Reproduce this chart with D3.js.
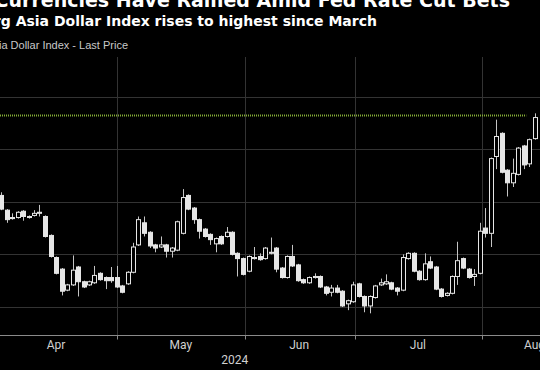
<!DOCTYPE html>
<html>
<head>
<meta charset="utf-8">
<script src="https://cdn.jsdelivr.net/npm/d3@7"></script>
<style>
  html, body { margin: 0; background: #000; overflow: hidden; }
  #chart { position: relative; width: 540px; height: 370px; overflow: hidden; }
  svg { display: block; }
  .headline {
    position: absolute; right: 30px; top: -8.6px;
    white-space: nowrap; color: #fff;
    font: bold 19px/19px "DejaVu Sans", sans-serif;
  }
</style>
</head>
<body>
<div id="chart"></div>
<script>
// daily candles, Bloomberg Asia Dollar Index, from early April 2024
const open = [105.06, 104.92, 104.85, 104.85, 104.91, 104.86, 104.87, 104.89, 104.86, 104.68,
  104.47, 104.36, 104.16, 104.21, 104.38, 104.24, 104.21, 104.23, 104.32, 104.28,
  104.28, 104.28, 104.20, 104.22, 104.33, 104.59, 104.80, 104.71, 104.59, 104.57,
  104.59, 104.53, 104.54, 104.70, 105.06, 104.94, 104.83, 104.74, 104.69, 104.60,
  104.67, 104.67, 104.71, 104.51, 104.46, 104.34, 104.46, 104.48, 104.46, 104.51,
  104.56, 104.37, 104.28, 104.48, 104.40, 104.26, 104.23, 104.28, 104.29, 104.19,
  104.14, 104.18, 104.15, 104.03, 104.05, 104.22, 104.10, 104.01, 104.09, 104.21,
  104.22, 104.23, 104.18, 104.16, 104.46, 104.51, 104.34, 104.26, 104.43, 104.38,
  104.17, 104.11, 104.13, 104.29, 104.46, 104.36, 104.29, 104.32, 104.75, 104.70,
  105.43, 105.65, 105.30, 105.18, 105.26, 105.53, 105.36, 105.60]
const high = [105.09, 104.93, 104.89, 104.91, 104.92, 104.87, 104.92, 104.97, 104.87, 104.69,
  104.48, 104.37, 104.22, 104.49, 104.39, 104.25, 104.25, 104.39, 104.33, 104.29,
  104.38, 104.39, 104.21, 104.34, 104.61, 104.86, 104.86, 104.72, 104.60, 104.67,
  104.60, 104.57, 104.82, 105.12, 105.07, 104.95, 104.84, 104.75, 104.70, 104.66,
  104.68, 104.76, 104.72, 104.52, 104.47, 104.49, 104.57, 104.51, 104.57, 104.66,
  104.57, 104.38, 104.49, 104.59, 104.41, 104.27, 104.29, 104.32, 104.30, 104.20,
  104.21, 104.21, 104.16, 104.07, 104.24, 104.23, 104.11, 104.11, 104.21, 104.27,
  104.31, 104.24, 104.19, 104.50, 104.52, 104.52, 104.35, 104.51, 104.48, 104.39,
  104.18, 104.14, 104.30, 104.62, 104.47, 104.37, 104.36, 104.80, 104.94, 105.42,
  105.78, 105.66, 105.31, 105.41, 105.52, 105.54, 105.60, 105.84]
const low = [104.92, 104.80, 104.83, 104.84, 104.82, 104.84, 104.86, 104.86, 104.66, 104.47,
  104.31, 104.11, 104.15, 104.20, 104.10, 104.18, 104.20, 104.22, 104.25, 104.17,
  104.23, 104.18, 104.13, 104.21, 104.32, 104.58, 104.67, 104.56, 104.52, 104.56,
  104.47, 104.47, 104.53, 104.69, 104.92, 104.79, 104.65, 104.66, 104.59, 104.52,
  104.59, 104.66, 104.49, 104.29, 104.30, 104.33, 104.45, 104.44, 104.45, 104.50,
  104.33, 104.27, 104.27, 104.38, 104.24, 104.22, 104.22, 104.27, 104.18, 104.11,
  104.10, 104.13, 104.00, 103.97, 104.04, 104.09, 103.95, 103.94, 104.08, 104.20,
  104.21, 104.16, 104.11, 104.15, 104.45, 104.33, 104.25, 104.25, 104.36, 104.16,
  104.09, 104.10, 104.12, 104.21, 104.36, 104.27, 104.20, 104.31, 104.66, 104.57,
  105.31, 105.27, 105.05, 105.14, 105.25, 105.31, 105.33, 105.59]
const close = [104.93, 104.83, 104.84, 104.90, 104.86, 104.85, 104.89, 104.90, 104.67, 104.48,
  104.32, 104.15, 104.21, 104.35, 104.24, 104.19, 104.24, 104.30, 104.26, 104.25,
  104.25, 104.19, 104.14, 104.33, 104.57, 104.83, 104.70, 104.58, 104.56, 104.59,
  104.53, 104.56, 104.81, 105.04, 104.93, 104.83, 104.72, 104.67, 104.64, 104.65,
  104.60, 104.71, 104.50, 104.46, 104.31, 104.48, 104.47, 104.45, 104.56, 104.52,
  104.36, 104.28, 104.48, 104.39, 104.25, 104.23, 104.28, 104.29, 104.19, 104.13,
  104.18, 104.14, 104.01, 104.06, 104.21, 104.10, 104.01, 104.10, 104.20, 104.23,
  104.24, 104.17, 104.15, 104.47, 104.51, 104.34, 104.26, 104.41, 104.37, 104.17,
  104.10, 104.13, 104.29, 104.44, 104.37, 104.28, 104.31, 104.72, 104.70, 105.41,
  105.62, 105.28, 105.18, 105.27, 105.51, 105.35, 105.59, 105.80]

// month boundaries and label centres, in trading-day units
const monthBreaks = [21.1, 44.4, 64.3, 87.4]
const monthNames = ['Apr', 'May', 'Jun', 'Jul', 'Aug']
const monthCentres = [10, 32.7, 54.2, 75.8, 97]
const yearLabel = '2024'
const yearCentre = 42.5

const yTicks = [104, 104.5, 105, 105.5, 106]
const highSinceMarch = 105.82
const highLineEnd = 95.5

async function draw() {
    const dataset = open.map((o, i) => ({
        i: i, open: o, high: high[i], low: low[i], close: close[i]
    }))

    let dimensions = {
        width: 540,
        height: 370,
        plotTop: 57,
        plotBottom: 335.5
    }

    const svg = d3.select('#chart')
        .append('svg')
        .attr('width', dimensions.width)
        .attr('height', dimensions.height)
        .style('background', '#000')

    // headline sits half outside the frame, like the source crop
    d3.select('#chart')
        .append('div')
        .attr('class', 'headline')
        .text('Asian Currencies Have Rallied Amid Fed Rate Cut Bets')

    const xScale = d3.scaleLinear()
        .domain([0, dataset.length - 1])
        .range([1, 534.5])

    const yScale = d3.scaleLinear()
        .domain([104, 106])
        .range([307, 96.5])

    svg.append('text')
        .attr('x', 377).attr('y', 26)
        .attr('text-anchor', 'end')
        .attr('fill', '#fff')
        .style('font', 'bold 14px "DejaVu Sans", sans-serif')
        .text('Bloomberg Asia Dollar Index rises to highest since March')

    svg.append('text')
        .attr('x', 128).attr('y', 49)
        .attr('text-anchor', 'end')
        .attr('fill', '#c8c8c8')
        .style('font', '11px "Liberation Sans", Arial, sans-serif')
        .text('Bloomberg Asia Dollar Index - Last Price')

    const ctr = svg.append('g')

    // grid
    ctr.append('g')
        .selectAll('line')
        .data(yTicks)
        .join('line')
        .attr('x1', 0).attr('x2', dimensions.width)
        .attr('y1', d => Math.round(yScale(d)) + 0.5)
        .attr('y2', d => Math.round(yScale(d)) + 0.5)
        .attr('stroke', '#333')

    ctr.append('g')
        .selectAll('line')
        .data(monthBreaks)
        .join('line')
        .attr('x1', d => Math.round(xScale(d)) + 0.5)
        .attr('x2', d => Math.round(xScale(d)) + 0.5)
        .attr('y1', dimensions.plotTop)
        .attr('y2', dimensions.plotBottom)
        .attr('stroke', '#333')

    // level of the March high
    ctr.append('line')
        .attr('x1', 0).attr('x2', xScale(highLineEnd))
        .attr('y1', yScale(highSinceMarch))
        .attr('y2', yScale(highSinceMarch))
        .attr('stroke', '#84ab36')
        .attr('stroke-width', 2)
        .attr('stroke-dasharray', '1,1')

    // candles
    const candles = ctr.append('g')
        .selectAll('g')
        .data(dataset)
        .join('g')

    candles.append('line')
        .attr('x1', d => Math.round(xScale(d.i)) + 0.5)
        .attr('x2', d => Math.round(xScale(d.i)) + 0.5)
        .attr('y1', d => yScale(d.high))
        .attr('y2', d => yScale(d.low))
        .attr('stroke', '#c4c4c4')

    candles.append('rect')
        .attr('x', d => Math.round(xScale(d.i)) - 1.5)
        .attr('y', d => yScale(Math.max(d.open, d.close)))
        .attr('width', 4)
        .attr('height', d => Math.max(1, Math.abs(yScale(d.open) - yScale(d.close))))
        .attr('fill', d => d.close >= d.open ? '#000' : '#e6e6e6')
        .attr('stroke', '#e6e6e6')
        .attr('stroke-width', 1)

    // x axis
    ctr.append('line')
        .attr('x1', 0).attr('x2', dimensions.width)
        .attr('y1', dimensions.plotBottom).attr('y2', dimensions.plotBottom)
        .attr('stroke', '#8a8a8a')

    ctr.append('g')
        .selectAll('line')
        .data(monthBreaks)
        .join('line')
        .attr('x1', d => Math.round(xScale(d)) + 0.5)
        .attr('x2', d => Math.round(xScale(d)) + 0.5)
        .attr('y1', dimensions.plotBottom)
        .attr('y2', dimensions.plotBottom + 4)
        .attr('stroke', '#8a8a8a')

    ctr.append('g')
        .selectAll('text')
        .data(monthNames)
        .join('text')
        .attr('x', (d, i) => xScale(monthCentres[i]))
        .attr('y', 349)
        .attr('text-anchor', 'middle')
        .attr('fill', '#d0d0d0')
        .style('font', '12px Roboto, sans-serif')
        .text(d => d)

    ctr.append('text')
        .attr('x', xScale(yearCentre))
        .attr('y', 364)
        .attr('text-anchor', 'middle')
        .attr('fill', '#d0d0d0')
        .style('font', '12px Roboto, sans-serif')
        .text(yearLabel)
}

draw()
</script>
</body>
</html>
